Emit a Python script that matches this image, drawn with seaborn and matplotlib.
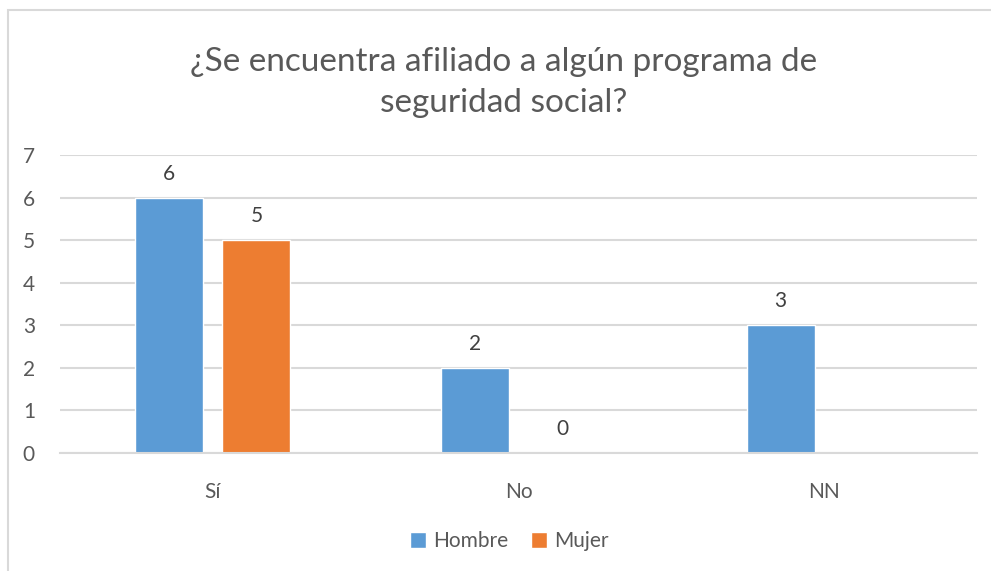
import numpy as np
import pandas as pd
import matplotlib.pyplot as plt
from matplotlib.patches import Rectangle
import seaborn as sns

categorias = ['Sí', 'No', 'NN']
hombre = [6, 2, 3]
mujer = [5, 0, np.nan]
series = ['Hombre', 'Mujer']
colores = ['#5B9BD5', '#ED7D31']

df = pd.DataFrame({
    'categoria': categorias * 2,
    'serie': ['Hombre'] * 3 + ['Mujer'] * 3,
    'valor': hombre + mujer,
})

sns.set_style('white')
plt.rcParams['font.family'] = ['Lato', 'DejaVu Sans']
gris = '#595959'

fig = plt.figure(figsize=(9.91, 5.71), dpi=100)
ax = fig.add_axes([0.0605, 0.2067, 0.9255, 0.5219])

sns.barplot(data=df, x='categoria', y='valor', hue='serie', order=categorias,
            hue_order=series, palette=colores, saturation=1, width=0.57,
            gap=0.22, ax=ax, legend=True)

for cont in ax.containers:
    ax.bar_label(cont, fmt='%g', padding=10, fontsize=15, color='#404040')

ax.set_ylim(0, 7)
ax.set_yticks(range(0, 8))
ax.set_xlim(-0.5, 2.5)
ax.set_xlabel('')
ax.set_ylabel('')
ax.yaxis.grid(True, color='#d9d9d9', linewidth=1.5)
ax.set_axisbelow(True)
for s in ['left', 'right', 'top']:
    ax.spines[s].set_visible(False)
ax.spines['bottom'].set_color('#d9d9d9')
ax.spines['bottom'].set_linewidth(1.5)
ax.tick_params(axis='y', length=0, pad=18, labelsize=15, labelcolor=gris)
ax.tick_params(axis='x', length=0, pad=21, labelsize=15, labelcolor=gris)

ax.legend(loc='upper center', bbox_to_anchor=(0.49, -0.2), ncol=2,
          frameon=False, fontsize=15, labelcolor=gris, handlelength=0.75,
          handleheight=0.75, handletextpad=0.35, columnspacing=1.1)

fig.text(0.508, 0.855, '¿Se encuentra afiliado a algún programa de\nseguridad social?',
         ha='center', va='center', fontsize=24, color=gris, linespacing=1.45)

fig.patches.append(Rectangle((0.008, -0.1), 1.2, 1.082, transform=fig.transFigure,
                             fill=False, edgecolor='#d9d9d9', linewidth=1.5))

fig.savefig('out.png', dpi=100)
